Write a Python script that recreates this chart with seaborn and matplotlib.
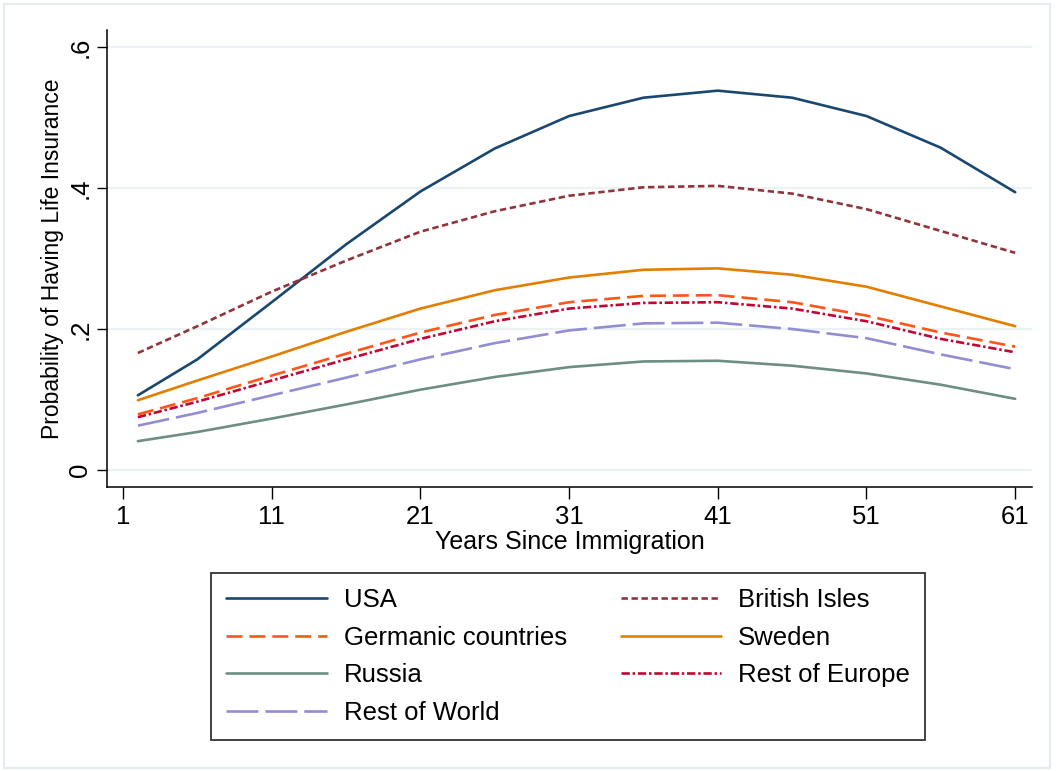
import matplotlib
matplotlib.use("Agg")
import matplotlib.pyplot as plt
from matplotlib.lines import Line2D
from matplotlib.patches import Rectangle
import pandas as pd
import seaborn as sns

# Years since immigration at which the predicted curves were read
YEARS = [2, 6, 11, 16, 21, 26, 31, 36, 41, 46, 51, 56, 61]

USA = [0.106, 0.157, 0.238, 0.320, 0.395, 0.456, 0.502, 0.528, 0.538, 0.528, 0.502, 0.457, 0.394]
BRITISH_ISLES = [0.166, 0.204, 0.253, 0.297, 0.338, 0.367, 0.389, 0.401, 0.403, 0.392, 0.370, 0.339, 0.308]
SWEDEN = [0.099, 0.127, 0.161, 0.196, 0.229, 0.255, 0.273, 0.284, 0.286, 0.277, 0.260, 0.232, 0.204]
GERMANIC = [0.079, 0.102, 0.134, 0.165, 0.195, 0.220, 0.238, 0.247, 0.248, 0.238, 0.219, 0.195, 0.175]
REST_EUROPE = [0.075, 0.097, 0.127, 0.157, 0.186, 0.211, 0.229, 0.237, 0.238, 0.229, 0.211, 0.186, 0.167]
REST_WORLD = [0.063, 0.081, 0.106, 0.131, 0.157, 0.180, 0.198, 0.208, 0.209, 0.200, 0.187, 0.164, 0.143]
RUSSIA = [0.041, 0.054, 0.073, 0.093, 0.114, 0.132, 0.146, 0.154, 0.155, 0.148, 0.137, 0.121, 0.101]

# legend order (two columns, filled column-first)
ORDER = ["USA", "Germanic countries", "Russia", "Rest of World",
         "British Isles", "Sweden", "Rest of Europe"]
SERIES = {
    "USA": USA,
    "British Isles": BRITISH_ISLES,
    "Germanic countries": GERMANIC,
    "Sweden": SWEDEN,
    "Russia": RUSSIA,
    "Rest of Europe": REST_EUROPE,
    "Rest of World": REST_WORLD,
}

X_TICKS = [1, 11, 21, 31, 41, 51, 61]
Y_TICKS = [0, 0.2, 0.4, 0.6]
Y_TICK_LABELS = ["0", ".2", ".4", ".6"]

# Stata s2color-ish palette
PALETTE = {
    "USA": "#1a476f",
    "British Isles": "#90353b",
    "Germanic countries": "#fe5518",
    "Sweden": "#e37e00",
    "Russia": "#6e8e84",
    "Rest of Europe": "#c10534",
    "Rest of World": "#938dd2",
}
# dash patterns in points (scale_dashes off)
DASHES = {
    "USA": "",
    "British Isles": (4.6, 2.6),
    "Germanic countries": (11.5, 5.0),
    "Sweden": "",
    "Russia": "",
    "Rest of Europe": (6.0, 2.0, 1.8, 2.0),
    "Rest of World": (23.0, 5.0),
}

rows = []
for name, vals in SERIES.items():
    for yr, v in zip(YEARS, vals):
        rows.append({"years": yr, "prob": v, "group": name})
df = pd.DataFrame(rows)

sns.set_theme(style="white")
plt.rcParams["font.family"] = ["Liberation Sans", "DejaVu Sans"]
plt.rcParams["lines.scale_dashes"] = False
for key in ["text.color", "axes.labelcolor", "xtick.color", "ytick.color"]:
    plt.rcParams[key] = "black"

fig = plt.figure(figsize=(10.56, 7.71), dpi=100)
ax = fig.add_axes([107 / 1056, 1 - 487 / 771, (1032 - 107) / 1056, (487 - 30) / 771])

LW = 1.9
sns.lineplot(
    data=df, x="years", y="prob", hue="group", style="group",
    hue_order=ORDER, style_order=ORDER,
    palette=PALETTE, dashes=DASHES, linewidth=LW,
    legend=False, ax=ax,
)

ax.set_xlim(-0.076, 62.13)
ax.set_ylim(-0.024, 0.624)
ax.set_xticks(X_TICKS)
ax.set_xticklabels([str(t) for t in X_TICKS], fontsize=18.5)
ax.set_yticks(Y_TICKS)
ax.set_yticklabels(Y_TICK_LABELS, rotation=90, va="center", fontsize=18.5)

ax.set_xlabel("Years Since Immigration", fontsize=18, labelpad=1)
ax.set_ylabel("Probability of Having Life Insurance", fontsize=16.5, labelpad=3)

ax.yaxis.grid(True, color="#eaf2f3", linewidth=1.6)
ax.xaxis.grid(False)
ax.set_axisbelow(True)

for side in ["top", "right"]:
    ax.spines[side].set_visible(False)
for side in ["left", "bottom"]:
    ax.spines[side].set_color("black")
    ax.spines[side].set_linewidth(1.1)

ax.tick_params(axis="x", direction="out", length=8.5, width=1, color="black", pad=4.5, bottom=True)
ax.tick_params(axis="y", direction="out", length=7.5, width=1, color="black", pad=3, left=True)

# legend built from the same styles
handles = []
for name in ORDER:
    h = Line2D([0], [0], color=PALETTE[name], linewidth=LW)
    if DASHES[name]:
        h.set_dashes(DASHES[name])
    handles.append(h)

leg = fig.legend(
    handles, ORDER,
    loc="upper left", bbox_to_anchor=(211 / 1056, 1 - 573 / 771),
    borderaxespad=0,
    ncol=2, fontsize=18.5, frameon=True, fancybox=False, framealpha=1,
    edgecolor="#333333", handlelength=3.9, handletextpad=0.66,
    columnspacing=2.1, labelspacing=0.52, borderpad=0.6,
)
leg.get_frame().set_linewidth(1.3)

# light outer graph-region frame
fig.patches.append(Rectangle((4 / 1056, 3 / 771), 1046 / 1056, 764 / 771,
                             transform=fig.transFigure, fill=False,
                             edgecolor="#e4ebef", linewidth=1.5))

fig.savefig("out.png", dpi=100)
plt.close(fig)
